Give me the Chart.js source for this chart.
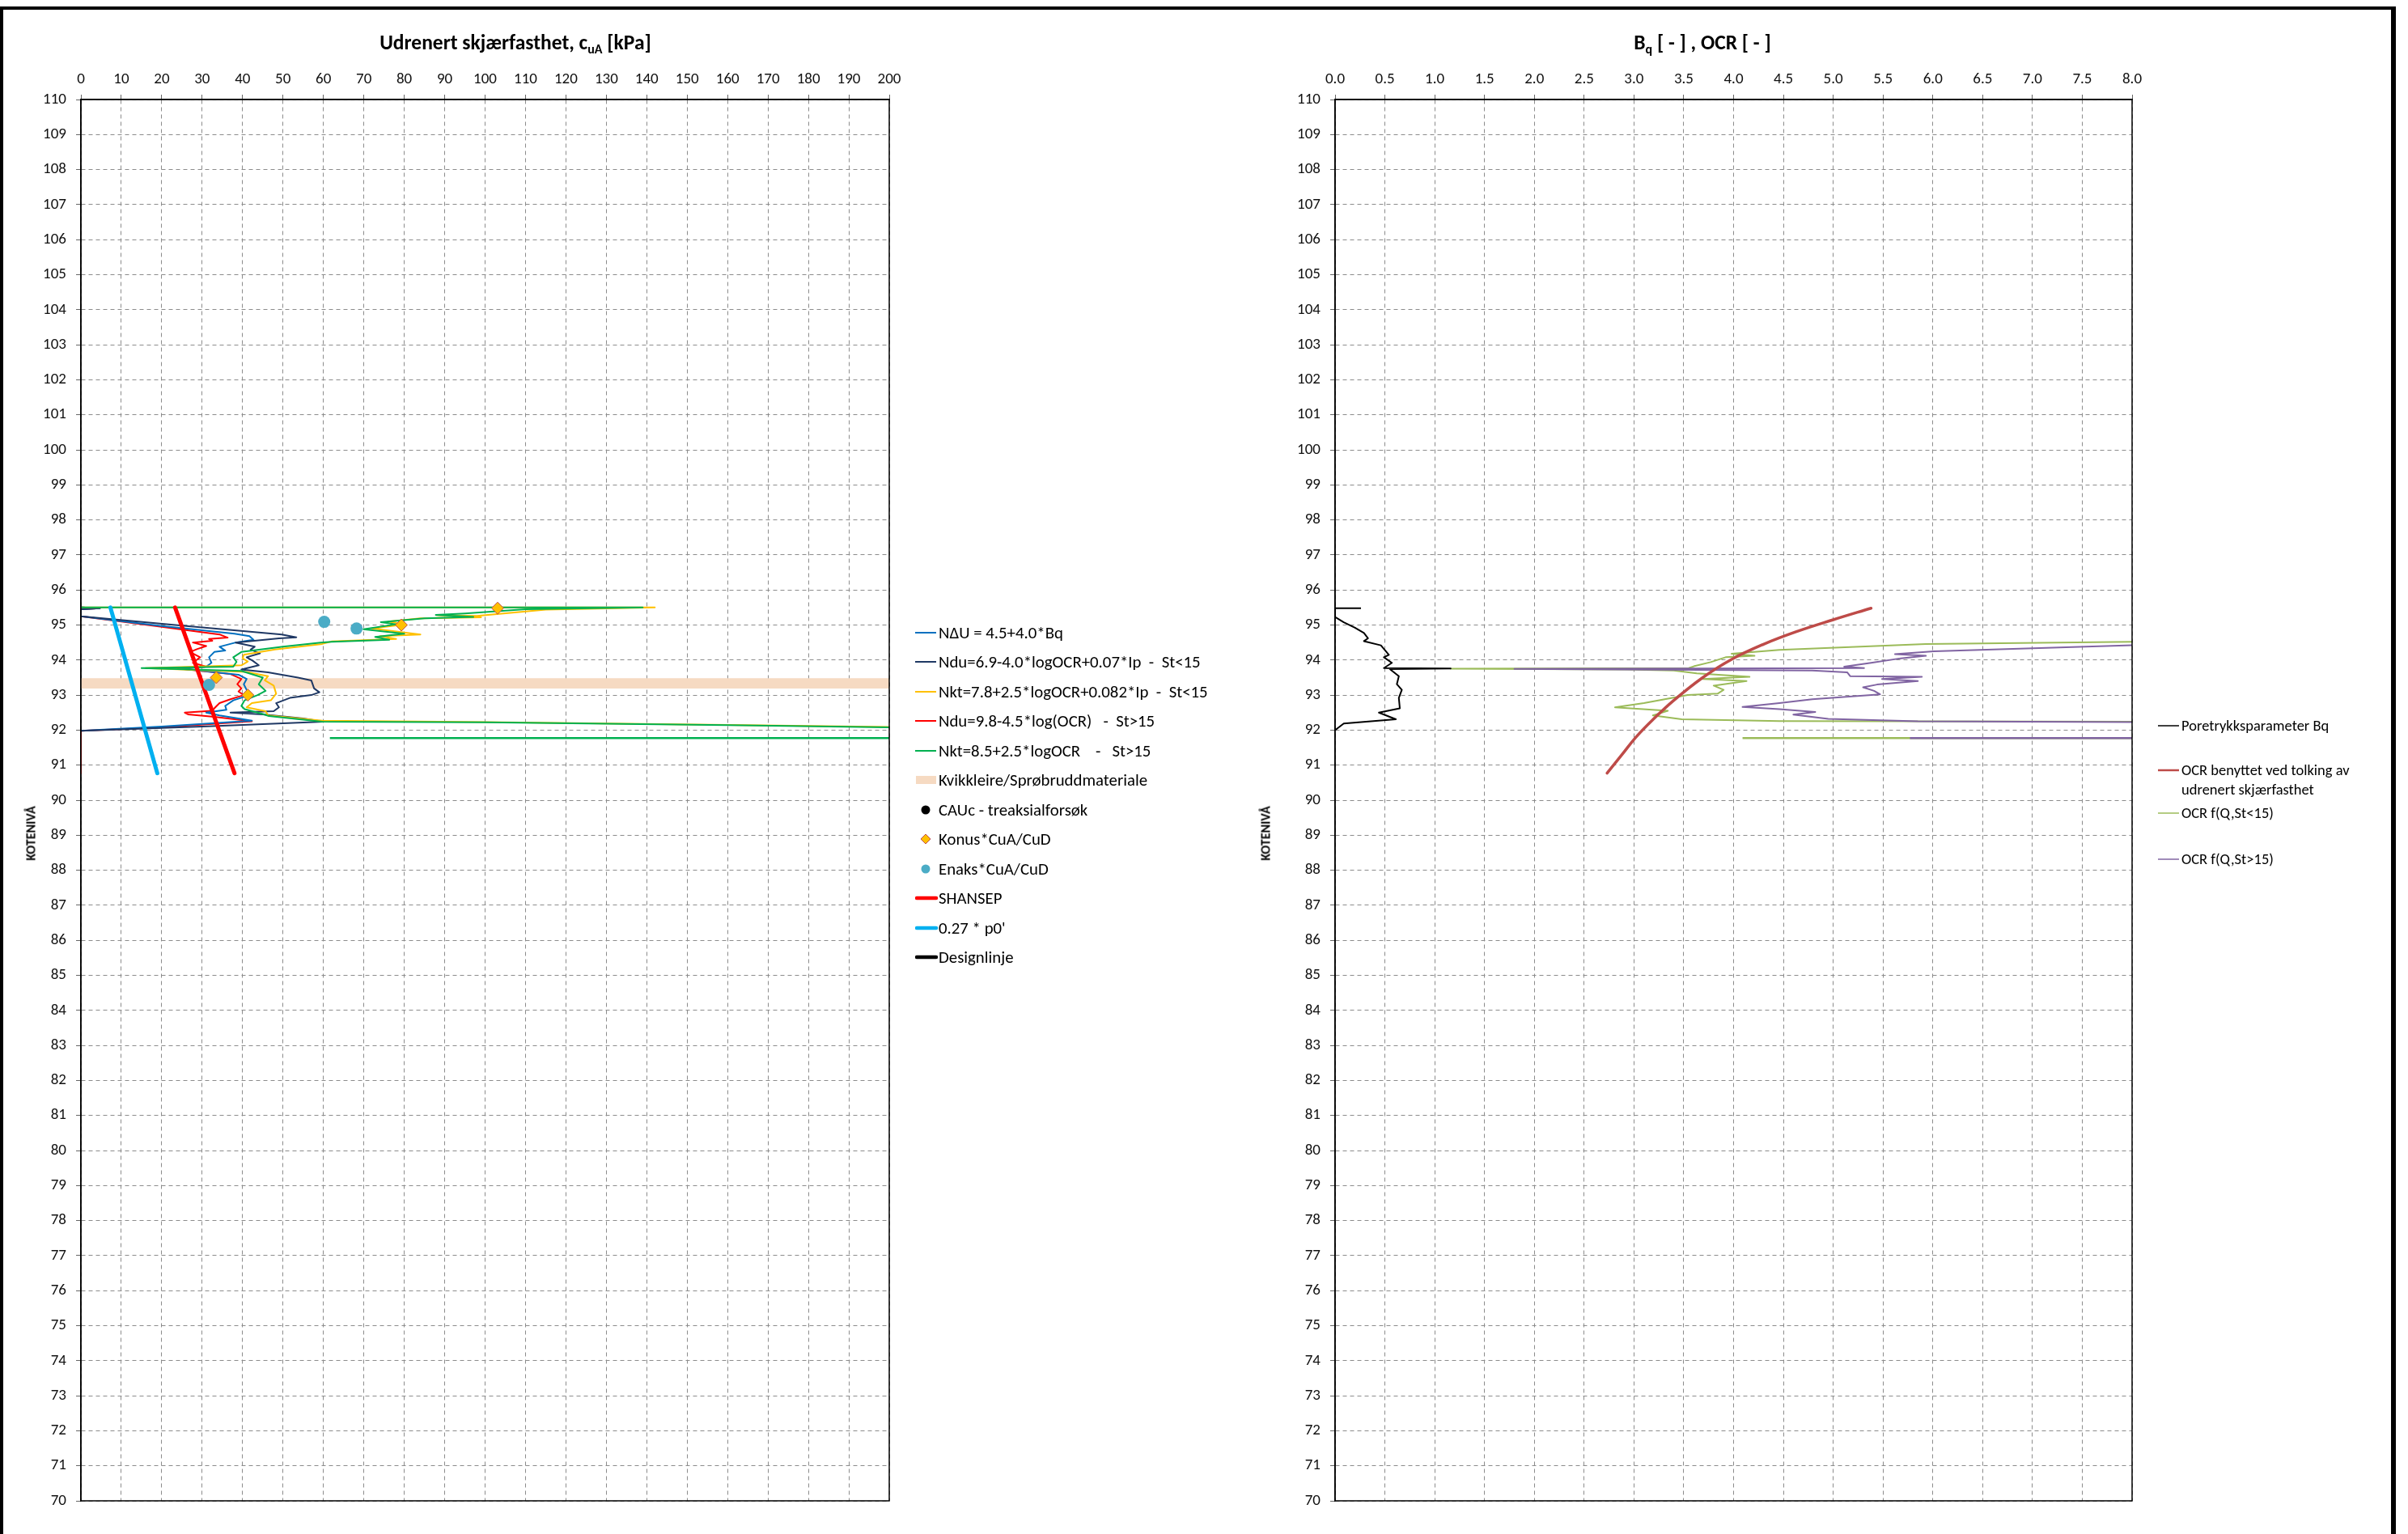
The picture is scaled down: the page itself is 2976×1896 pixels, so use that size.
<!DOCTYPE html>
<html lang="no">
<head>
<meta charset="utf-8">
<title>CPTU tolkning</title>
<script src="https://cdn.jsdelivr.net/npm/chart.js@4.4.1/dist/chart.umd.min.js"></script>
<style>
html,body{margin:0;padding:0;background:#fff;}
body{position:relative;width:2976px;height:1896px;overflow:hidden;font-family:Carlito,Calibri,Lato,sans-serif;color:#000;}
#ramme{position:absolute;left:0;top:8px;width:2961px;height:1900px;box-sizing:border-box;border-top:4px solid #000;border-left:4px solid #000;border-right:6px solid #000;}
canvas{position:absolute;top:0;}
#g1{left:0;}
#g2{left:1550px;}
.tittel{position:absolute;top:52px;transform:translate(-50%,-50%);font-weight:bold;font-size:25.5px;white-space:nowrap;}
.tittel sub{font-size:16px;vertical-align:-5px;line-height:0;}
.akse{position:absolute;top:1030px;transform:translate(-50%,-50%) rotate(-90deg);font-weight:bold;font-size:16px;white-space:nowrap;}
.rad{position:absolute;height:24px;line-height:24px;white-space:pre;}
.rad svg{position:absolute;left:0;top:0;}
.rad span{position:absolute;left:29px;top:0;}
</style>
</head>
<body>
<div id="ramme"></div>
<canvas id="g1" width="1160" height="1896"></canvas>
<canvas id="g2" width="1145" height="1896"></canvas>
<div class="tittel" style="left:637px">Udrenert skjærfasthet, c<sub>uA</sub> [kPa]</div>
<div class="tittel" style="left:2104px">B<sub>q</sub> [ - ] , OCR [ - ]</div>
<div class="akse" style="left:38px">KOTENIVÅ</div>
<div class="akse" style="left:1564px">KOTENIVÅ</div>
<script>
const FONT="Carlito, Calibri, Lato, sans-serif";

// akser
const kotAkse=[70,110,1];
const cuAkse=[0,200,10];
const bqAkse=[0,8,0.5];

// venstre diagram: [cuA kPa, kotenivå]
const nDeltaU=[[0,95.5],[4.7,95.48],[0,95.45],[0,95.25],[20,94.97],[38,94.75],[41.7,94.68],[42.7,94.58],[38.3,94.5],[34.3,94.38],[35.7,94.27],[33,94.23],[31.7,94.08],[32.3,93.92],[31,93.81],[24.5,93.76],[39,93.58],[41,93.46],[40.3,93.31],[41,93.15],[41.7,93.0],[37.7,92.85],[35.7,92.69],[36,92.58],[31,92.5],[34.3,92.42],[42.3,92.27],[20,92.1],[0,91.98]];
const nduOcr=[[0,95.5],[4.7,95.48],[0,95.45],[0,95.25],[25,94.98],[49.7,94.73],[53.3,94.65],[49,94.62],[38.3,94.5],[43,94.38],[42,94.3],[44.3,94.19],[41,94.08],[42.5,93.98],[44,93.85],[39.7,93.73],[46.3,93.65],[53.7,93.5],[57,93.42],[57.7,93.19],[59,93.08],[57,93.0],[51.7,92.92],[48.3,92.77],[49,92.65],[47.7,92.54],[37,92.5],[45,92.45],[55,92.33],[60,92.24],[30,92.1],[0,91.98]];
const nktOcr=[[0,95.5],[142,95.5],[115,95.44],[98,95.26],[88,95.28],[99,95.22],[84,95.19],[76,95.1],[80,95.02],[72,94.9],[84,94.73],[74,94.68],[78,94.6],[62,94.53],[59.7,94.46],[48,94.3],[40.3,94.15],[40,94.05],[41.3,93.96],[39.7,93.85],[16,93.77],[41,93.66],[46.3,93.54],[45.5,93.42],[47.7,93.27],[48.3,93.04],[47,92.85],[42.3,92.77],[41,92.65],[45.7,92.54],[46.3,92.42],[59.7,92.27],[100,92.23],[160,92.15],[220,92.06]];
const nduSt=[[0,95.5],[4.7,95.48],[0,95.45],[0,95.25],[20,94.95],[34.3,94.73],[36.3,94.64],[31.7,94.6],[32.5,94.55],[27.7,94.5],[31,94.4],[28.7,94.31],[27,94.23],[29.5,94.08],[27.7,93.92],[31,93.81],[24,93.76],[37,93.6],[39.7,93.46],[38.7,93.31],[39.7,93.19],[39,93.1],[40.3,93.0],[37,92.88],[34.3,92.77],[33,92.62],[32.5,92.55],[25.7,92.5],[26.5,92.45],[33,92.38],[42.3,92.25],[20,92.08],[0,91.98],[0,90.77]];
const nktSt=[[0,95.5],[139,95.5],[110,95.45],[95,95.33],[87.8,95.29],[97.1,95.23],[85,95.19],[74.2,95.08],[78,95.02],[69.9,94.88],[80,94.75],[72.8,94.66],[76.3,94.58],[62,94.52],[59.3,94.5],[50,94.38],[39.7,94.23],[37.7,94.08],[38.5,93.95],[37.7,93.81],[15,93.77],[39.7,93.69],[45,93.5],[44,93.31],[45.7,93.12],[43.7,93.0],[40.5,92.85],[39.7,92.69],[40.5,92.6],[45,92.46],[46.5,92.4],[59.7,92.24],[100,92.22],[160,92.14],[220,92.05]];
const nktStHale=[[61.6,91.77],[220,91.77]];
const kvikkleire=[[0,93.335],[200,93.335]];
const cauc=[];
const konus=[[103.1,95.48],[79.3,95.0],[33.5,93.5],[41.3,93.0]];
const enaks=[[60.2,95.09],[68.2,94.9],[31.7,93.29]];
const shansep=[[23.3,95.5],[38.0,90.77]];
const p0=[[7.3,95.5],[18.9,90.77]];
const design=[];

// høyre diagram: [Bq / OCR, kotenivå]
const bq=[[0.26,95.48],[0,95.48],[0,95.23],[0.087,95.08],[0.2,94.92],[0.29,94.77],[0.33,94.62],[0.29,94.54],[0.46,94.42],[0.54,94.15],[0.49,94.08],[0.57,93.92],[0.49,93.77],[1.16,93.76],[0.55,93.74],[0.64,93.54],[0.62,93.31],[0.67,93.15],[0.64,92.92],[0.65,92.62],[0.44,92.5],[0.61,92.31],[0.087,92.19],[0,92.0]];
const ocrBrukt=[[2.73,90.77],[2.88,91.3],[3.02,91.8],[3.19,92.3],[3.4,92.85],[3.69,93.5],[3.98,94.02],[4.3,94.45],[4.62,94.8],[5.0,95.15],[5.38,95.48]];
const ocrLav=[[9,94.53],[8.0,94.52],[5.93,94.46],[4.46,94.29],[3.98,94.18],[4.21,94.12],[3.92,94.08],[3.77,93.94],[3.6,93.82],[3.55,93.77],[1.16,93.755],[2.93,93.73],[3.4,93.7],[3.63,93.62],[4.16,93.52],[3.69,93.46],[4.13,93.4],[3.8,93.27],[3.9,93.15],[3.84,93.04],[3.54,93.0],[3.1,92.77],[2.81,92.65],[3.34,92.55],[3.19,92.42],[3.48,92.31],[4.46,92.26],[8.0,92.24],[9,92.23]];
const ocrLavHale=[[4.09,91.77],[9,91.77]];
const ocrHoy=[[9,94.43],[8.0,94.42],[6.01,94.25],[5.62,94.17],[5.93,94.12],[5.68,94.05],[5.38,93.92],[5.11,93.81],[5.31,93.77],[1.8,93.75],[4.79,93.7],[5.14,93.65],[5.17,93.54],[5.89,93.52],[5.49,93.46],[5.85,93.4],[5.44,93.3],[5.3,93.22],[5.41,93.12],[5.47,93.02],[4.79,92.88],[4.46,92.77],[4.09,92.66],[4.46,92.6],[4.82,92.52],[4.6,92.44],[4.95,92.32],[5.85,92.25],[8.0,92.23],[9,92.22]];
const ocrHoyHale=[[5.77,91.77],[9,91.77]];

// tegnforklaring
const legVenstre=["NΔU = 4.5+4.0*Bq","Ndu=6.9-4.0*logOCR+0.07*Ip  -  St<15","Nkt=7.8+2.5*logOCR+0.082*Ip  -  St<15","Ndu=9.8-4.5*log(OCR)   -  St>15","Nkt=8.5+2.5*logOCR    -   St>15","Kvikkleire/Sprøbruddmateriale","CAUc - treaksialforsøk","Konus*CuA/CuD","Enaks*CuA/CuD","SHANSEP","0.27 * p0'","Designlinje"];
const legHoyre=["Poretrykksparameter Bq","OCR benyttet ved tolking av\nudrenert skjærfasthet","OCR f(Q,St<15)","OCR f(Q,St>15)"];

const serie=pts=>pts.map(p=>({x:p[0],y:p[1]}));

function linje(data,farge,bredde,ekstra){
return Object.assign({data:serie(data),showLine:true,borderColor:farge,backgroundColor:farge,borderWidth:bredde,pointRadius:0,pointHoverRadius:0,fill:false,tension:0,borderJoinStyle:"round"},ekstra||{});
}

function punkter(data,farge,stil,r,kant){
return {data:serie(data),showLine:false,pointStyle:stil,pointRadius:r,pointHoverRadius:r,backgroundColor:farge,borderColor:kant||farge,borderWidth:kant?1:0};
}

const ramme={id:"ramme",afterDatasetsDraw(c){
const a=c.chartArea,ctx=c.ctx;
ctx.save();
ctx.strokeStyle="#000";
ctx.lineWidth=1.5;
ctx.strokeRect(a.left,a.top,a.right-a.left,a.bottom-a.top);
ctx.restore();
}};

function lagGraf(id,datasett,akse,format,hoyrePad){
return new Chart(document.getElementById(id),{
type:"scatter",
data:{datasets:datasett},
options:{
responsive:false,animation:false,devicePixelRatio:1,events:[],
layout:{padding:{left:0,top:0,right:hoyrePad,bottom:41}},
plugins:{legend:{display:false},tooltip:{enabled:false}},
scales:{
x:{type:"linear",position:"top",min:akse[0],max:akse[1],
afterFit:s=>{s.height=123;},
ticks:{stepSize:akse[2],autoSkip:false,maxRotation:0,padding:7,color:"#111",font:{family:FONT,size:19},callback:format},
grid:{color:"#8c8c8c",lineWidth:1,tickLength:6,tickColor:"#666",tickBorderDash:[]},
border:{display:true,color:"#000",width:1.5,dash:[5,4]}},
y:{type:"linear",min:kotAkse[0],max:kotAkse[1],
afterFit:s=>{s.width=100;},
ticks:{stepSize:kotAkse[2],autoSkip:false,padding:12,color:"#111",font:{family:FONT,size:19}},
grid:{color:"#8c8c8c",lineWidth:1,tickLength:6,tickColor:"#666",tickBorderDash:[]},
border:{display:true,color:"#000",width:1.5,dash:[5,4]}}
}
},
plugins:[ramme]
});
}

// første datasett tegnes øverst
lagGraf("g1",[
punkter(konus,"#FFC000","rectRot",7.5,"#C0504D"),
punkter(enaks,"#4BACC6","circle",7.5),
punkter(cauc,"#000","circle",6),
linje(shansep,"#FF0000",5,{borderCapStyle:"round"}),
linje(p0,"#00B0F0",5,{borderCapStyle:"round"}),
linje(design,"#000",5),
linje(nktSt,"#00B050",2),
linje(nktStHale,"#00B050",2.5),
linje(nktOcr,"#FFC000",2),
linje(nduOcr,"#1F3864",2),
linje(nDeltaU,"#0070C0",2),
linje(nduSt,"#FF0000",2),
linje(kvikkleire,"#F6DAC2",12.6,{borderCapStyle:"butt"})
],cuAkse,v=>v,61);

lagGraf("g2",[
linje(bq,"#000",2),
linje(ocrBrukt,"#BE4B48",3.5,{tension:0.4,borderCapStyle:"round"}),
linje(ocrHoy,"#8064A2",2),
linje(ocrHoyHale,"#8064A2",2.5),
linje(ocrLav,"#9BBB59",2),
linje(ocrLavHale,"#9BBB59",2.5)
],bqAkse,v=>v.toFixed(1),60);

// tegnforklaring som tekst
const svgNS="http://www.w3.org/2000/svg";
function prove(type,farge,b){
const svg=document.createElementNS(svgNS,"svg");
svg.setAttribute("width","30");svg.setAttribute("height","24");
let el;
if(type==="linje"){
el=document.createElementNS(svgNS,"line");
el.setAttribute("x1",b>3?2:0);el.setAttribute("x2",26);el.setAttribute("y1",12);el.setAttribute("y2",12);
el.setAttribute("stroke",farge);el.setAttribute("stroke-width",b);el.setAttribute("stroke-linecap",b>3?"round":"butt");
}else if(type==="boks"){
el=document.createElementNS(svgNS,"rect");
el.setAttribute("x",1);el.setAttribute("y",7);el.setAttribute("width",25);el.setAttribute("height",10);el.setAttribute("fill",farge);
}else if(type==="prikk"){
el=document.createElementNS(svgNS,"circle");
el.setAttribute("cx",13);el.setAttribute("cy",12);el.setAttribute("r",b);el.setAttribute("fill",farge);
}else{
el=document.createElementNS(svgNS,"polygon");
el.setAttribute("points","13,6 19,12 13,18 7,12");el.setAttribute("fill",farge);el.setAttribute("stroke","#C0504D");el.setAttribute("stroke-width","1");
}
svg.appendChild(el);
return svg;
}

function legende(x,ys,tekster,stiler,str){
tekster.forEach((t,i)=>{
const rad=document.createElement("div");
rad.className="rad";
rad.style.left=x+"px";
rad.style.top=(ys[i]-12)+"px";
rad.style.fontSize=str+"px";
rad.appendChild(prove(...stiler[i]));
const s=document.createElement("span");
s.textContent=t;
rad.appendChild(s);
document.body.appendChild(rad);
});
}

legende(1131,legVenstre.map((t,i)=>781.5+i*36.5),legVenstre,[
["linje","#0070C0",2],["linje","#1F3864",2],["linje","#FFC000",2],["linje","#FF0000",2],["linje","#00B050",2],
["boks","#F6DAC2"],["prikk","#000",5.5],["ruter","#FFC000"],["prikk","#4BACC6",5.5],
["linje","#FF0000",4.5],["linje","#00B0F0",4.5],["linje","#000",4.5]
],20.8);

legende(2667,[897,952,1005,1062],legHoyre,[
["linje","#000",1.5],["linje","#BE4B48",2.5],["linje","#9BBB59",1.5],["linje","#8064A2",1.5]
],18.5);
</script>
</body>
</html>
